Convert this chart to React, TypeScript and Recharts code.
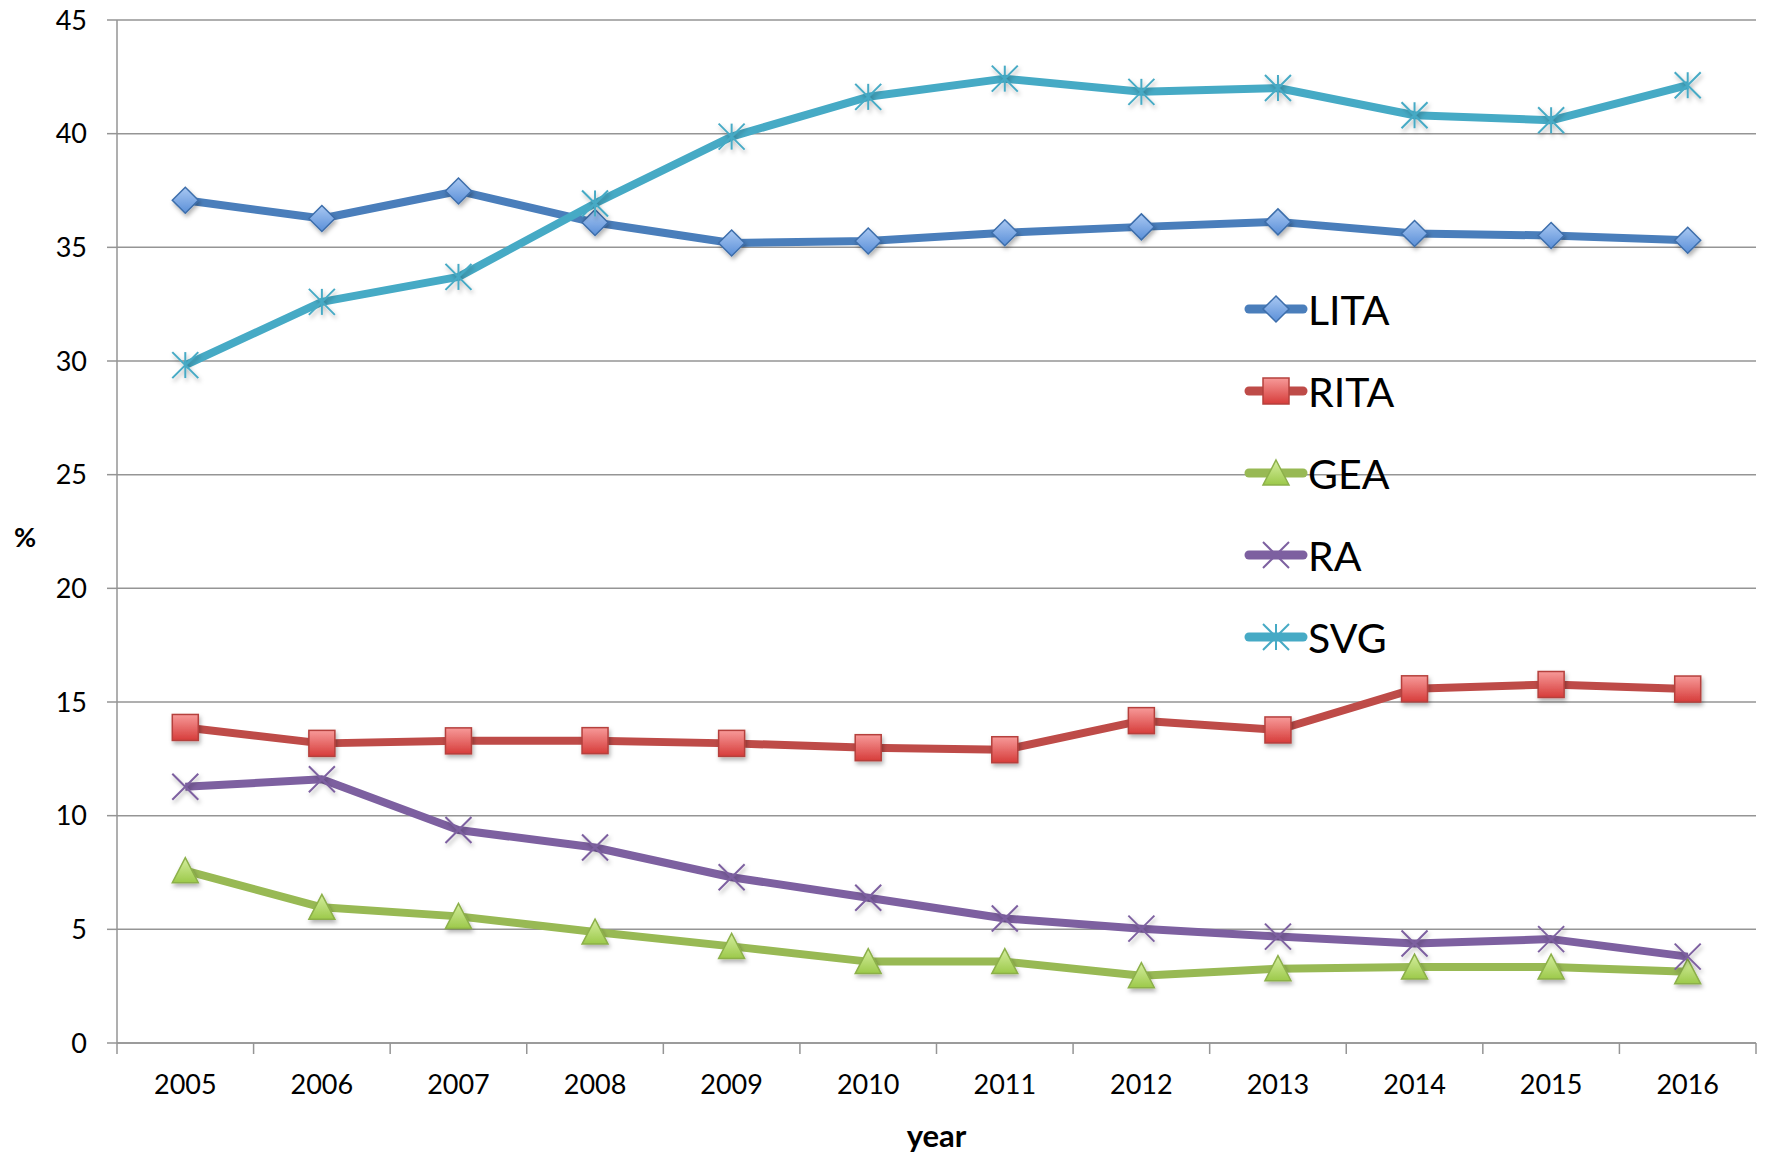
import React from "react"
import { CartesianGrid, Legend, Line, LineChart, Text, XAxis, YAxis } from "recharts"

const years = [2005, 2006, 2007, 2008, 2009, 2010, 2011, 2012, 2013, 2014, 2015, 2016]
const lita = [37.07, 36.27, 37.48, 36.09, 35.19, 35.28, 35.64, 35.9, 36.12, 35.61, 35.52, 35.31]
const rita = [13.88, 13.18, 13.29, 13.3, 13.18, 12.99, 12.9, 14.18, 13.77, 15.58, 15.77, 15.57]
const gea = [7.58, 5.97, 5.57, 4.88, 4.25, 3.58, 3.58, 2.96, 3.27, 3.34, 3.34, 3.13]
const ra = [11.27, 11.6, 9.37, 8.6, 7.29, 6.39, 5.48, 5.03, 4.68, 4.38, 4.57, 3.8]
const svg = [29.82, 32.6, 33.7, 36.93, 39.87, 41.62, 42.42, 41.84, 42.01, 40.81, 40.59, 42.13]
const yTicks = [0, 5, 10, 15, 20, 25, 30, 35, 40, 45]
const yearEdges = [...years.map((y) => y - 0.5), years[years.length - 1] + 0.5]
const xTicks = [...yearEdges, ...years].sort((a, b) => a - b)

const data = years.map((year, i) => ({
    year,
    LITA: lita[i],
    RITA: rita[i],
    GEA: gea[i],
    RA: ra[i],
    SVG: svg[i],
}))

type Shape = "diamond" | "square" | "triangle" | "cross" | "star"

const series: { key: string, color: string, shape: Shape }[] = [
    { key: "LITA", color: "#4a7ebb", shape: "diamond" },
    { key: "RITA", color: "#be4b48", shape: "square" },
    { key: "GEA", color: "#98b954", shape: "triangle" },
    { key: "RA", color: "#7d60a0", shape: "cross" },
    { key: "SVG", color: "#46aac5", shape: "star" },
]

const FONT = "Lato, 'Open Sans', sans-serif"
const GRID = "#959595"
const TICK_SIZE = 10
const TICK_MARGIN = 22

function Marker({ shape, cx, cy, color, shadow = true }: { shape: Shape, cx: number, cy: number, color: string, shadow?: boolean }) {
    const f = shadow ? "url(#mshadow)" : undefined
    const r = 13
    if (shape === "diamond") {
        return <polygon points={`${cx},${cy - r} ${cx + r},${cy} ${cx},${cy + r} ${cx - r},${cy}`}
            fill="url(#gBlue)" stroke="#3d6eab" strokeWidth={1.5} filter={f} />
    }
    if (shape === "square") {
        return <rect x={cx - r} y={cy - r} width={2 * r} height={2 * r}
            fill="url(#gRed)" stroke="#b5403d" strokeWidth={1.5} filter={f} />
    }
    if (shape === "triangle") {
        return <polygon points={`${cx},${cy - 13} ${cx + 13},${cy + 12} ${cx - 13},${cy + 12}`}
            fill="url(#gGreen)" stroke="#8cb04a" strokeWidth={1.5} filter={f} />
    }
    if (shape === "cross") {
        return (
            <g stroke={color} strokeWidth={2} filter={f}>
                <line x1={cx - r} y1={cy - r} x2={cx + r} y2={cy + r} />
                <line x1={cx - r} y1={cy + r} x2={cx + r} y2={cy - r} />
            </g>
        )
    }
    return (
        <g stroke={color} strokeWidth={2} filter={f}>
            <line x1={cx - r} y1={cy - r} x2={cx + r} y2={cy + r} />
            <line x1={cx - r} y1={cy + r} x2={cx + r} y2={cy - r} />
            <line x1={cx} y1={cy - r} x2={cx} y2={cy + r} />
        </g>
    )
}

function makeDot(shape: Shape, color: string) {
    return (props: any) => {
        const { cx, cy, index } = props
        if (cx == null || cy == null) return <g key={index} />
        return <Marker key={index} shape={shape} cx={cx} cy={cy} color={color} />
    }
}

function Gradients() {
    return (
        <defs>
            <linearGradient id="gBlue" x1="0" y1="0" x2="0" y2="1">
                <stop offset="0%" stopColor="#a9c8f2" />
                <stop offset="100%" stopColor="#5a8fd8" />
            </linearGradient>
            <linearGradient id="gRed" x1="0" y1="0" x2="0" y2="1">
                <stop offset="0%" stopColor="#f79a99" />
                <stop offset="100%" stopColor="#d63c3a" />
            </linearGradient>
            <linearGradient id="gGreen" x1="0" y1="0" x2="0" y2="1">
                <stop offset="0%" stopColor="#d5ee9f" />
                <stop offset="100%" stopColor="#9cc94a" />
            </linearGradient>
            <filter id="mshadow" x="-50%" y="-50%" width="200%" height="200%">
                <feDropShadow dx="1.5" dy="3" stdDeviation="2" floodColor="#000" floodOpacity="0.3" />
            </filter>
        </defs>
    )
}

function LegendBox() {
    return (
        <div style={{ fontFamily: FONT }}>
            {series.map((s) => (
                <div key={s.key} style={{ display: "flex", alignItems: "center", height: 82 }}>
                    <svg width={62} height={40} style={{ overflow: "visible" }}>
                        <line x1={4} y1={20} x2={58} y2={20} stroke={s.color} strokeWidth={9} strokeLinecap="round" />
                        <Marker shape={s.shape} cx={31} cy={20} color={s.color} shadow={false} />
                    </svg>
                    <span style={{ fontSize: 41, color: "#000", marginLeft: 1, lineHeight: 1 }}>{s.key}</span>
                </div>
            ))}
        </div>
    )
}

// whole years get a label, half years get the tick mark between categories
function YearTick(props: any) {
    const { x, y, payload } = props
    const v = payload.value
    if (Number.isInteger(v)) {
        return <Text x={x} y={y} textAnchor="middle" verticalAnchor="start" fontSize={27} fill="#000">{String(v)}</Text>
    }
    const axisY = y - TICK_SIZE - TICK_MARGIN
    return <line x1={x} x2={x} y1={axisY} y2={axisY + TICK_SIZE + 1} stroke={GRID} strokeWidth={1.5} />
}

export default function App() {
    return (
        <div style={{ position: "absolute", left: 0, top: 0, background: "#fff" }}>
            <LineChart width={1765} height={1157} data={data}
                margin={{ top: 20, right: 9, bottom: 0, left: 0 }}
                style={{ fontFamily: FONT }}>
                <Gradients />
                <CartesianGrid vertical={false} stroke={GRID} strokeWidth={1.5} />
                <XAxis dataKey="year" type="number" domain={[2004.5, 2016.5]} ticks={xTicks}
                    height={114} axisLine={{ stroke: GRID, strokeWidth: 1.5 }} tickLine={false}
                    tickSize={TICK_SIZE} tickMargin={TICK_MARGIN}
                    tick={YearTick} interval={0}
                    label={{ value: "year", position: "insideBottom", offset: 10,
                        style: { fontSize: 31, fontWeight: 700, fill: "#000" } }} />
                <YAxis domain={[0, 45]} ticks={yTicks} width={117} interval={0}
                    tickSize={10} tickMargin={20}
                    axisLine={{ stroke: GRID, strokeWidth: 1.5 }} tickLine={{ stroke: GRID, strokeWidth: 1.5 }}
                    tick={{ fontSize: 27, fill: "#000" }}
                    label={{ value: "%", position: "insideLeft", offset: 14, dy: 6,
                        style: { fontSize: 27, fontWeight: 700, fill: "#000" } }} />
                <Legend layout="vertical" align="center" verticalAlign="middle"
                    wrapperStyle={{ left: 1245, top: 268, width: 240 }} content={() => <LegendBox />} />
                {series.map((s) => (
                    <Line key={s.key} dataKey={s.key} type="linear" stroke={s.color} strokeWidth={8}
                        strokeLinejoin="round" dot={makeDot(s.shape, s.color)} activeDot={false}
                        isAnimationActive={false} />
                ))}
            </LineChart>
        </div>
    )
}
